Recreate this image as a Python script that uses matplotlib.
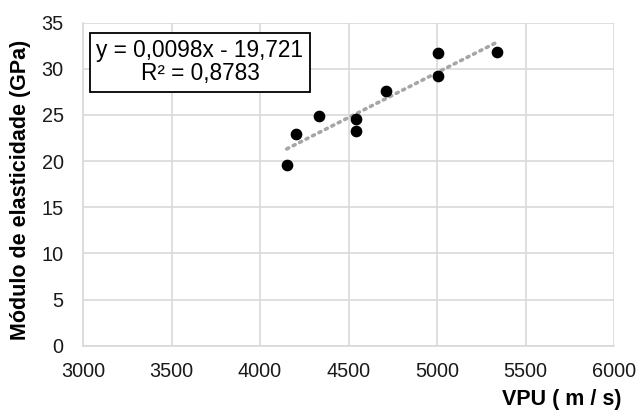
import numpy as np
import matplotlib.pyplot as plt

plt.rcParams['font.family'] = ['Liberation Sans', 'DejaVu Sans']

# dados
vpu = [4151, 4202, 4335, 4541, 4541, 4714, 5008, 5008, 5337]
modulo = [19.55, 22.9, 24.9, 24.56, 23.26, 27.56, 31.68, 29.25, 31.82]
x_ticks = [3000, 3500, 4000, 4500, 5000, 5500, 6000]
y_ticks = [0, 5, 10, 15, 20, 25, 30, 35]
equation = "y = 0,0098x - 19,721\nR² = 0,8783"

fig = plt.figure(figsize=(6.38, 4.12), dpi=100)
ax = fig.add_axes([83/638, 1 - 345.7/412, 531/638, 323/412])

# linha de tendencia
coef = np.polyfit(vpu, modulo, 1)
xt = np.array([min(vpu), max(vpu)])
ax.plot(xt, np.polyval(coef, xt), linestyle=(0, (0.6, 1.4)), color='#a6a6a6',
        lw=2.6, dash_capstyle='round', zorder=2)

ax.scatter(vpu, modulo, s=55, color='black', zorder=3)

ax.set_xlim(3000, 6000)
ax.set_ylim(0, 35)
ax.set_xticks(x_ticks)
ax.set_yticks(y_ticks)
ax.grid(True, color='#d9d9d9', lw=1.2)
ax.set_axisbelow(True)
for s in ['top', 'right']:
    ax.spines[s].set_visible(False)
for s in ['left', 'bottom']:
    ax.spines[s].set_color('#d9d9d9')
    ax.spines[s].set_linewidth(1.2)
ax.tick_params(length=0, labelsize=14.3, colors='#1a1a1a')
ax.tick_params(axis='x', pad=12)
ax.tick_params(axis='y', pad=14)

ax.set_xlabel('VPU ( m / s)', fontsize=15.5, fontweight='bold', ha='right')
ax.xaxis.set_label_coords(1.015, -0.135)
ax.set_ylabel('Módulo de elasticidade (GPa)', fontsize=15.5, fontweight='bold')
ax.yaxis.set_label_coords(-0.098, 0.482)

ax.text(3661, 30.7, equation, fontsize=16.3, ha='center', va='center', linespacing=1.0,
        bbox=dict(boxstyle='square,pad=0.3', fc='white', ec='black', lw=1.3), zorder=4)

fig.savefig('out.png', dpi=100)
